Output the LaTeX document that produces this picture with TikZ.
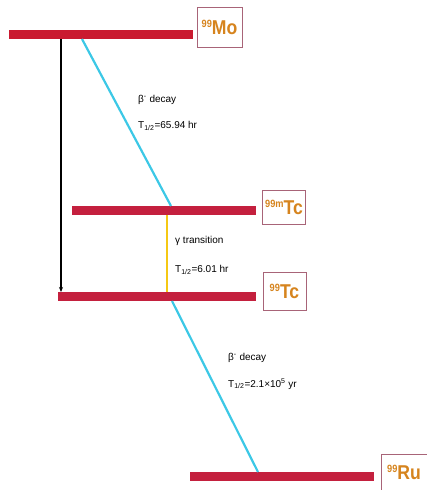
\documentclass[tikz,border=0pt]{standalone}
\usepackage{fontspec}
\setmainfont{Liberation Sans}
\usetikzlibrary{arrows.meta}
\definecolor{barred}{RGB}{196,32,62}
\definecolor{mored}{RGB}{202,26,48}
\definecolor{boxedge}{RGB}{168,100,120}
\definecolor{isoorange}{RGB}{214,132,30}
\definecolor{cyanline}{RGB}{60,200,230}
\definecolor{yellowline}{RGB}{245,200,20}
\tikzset{
  x=1pt, y=-1pt,
  level/.style={fill=barred, draw=none, inner sep=0pt, minimum height=8.5pt},
  isobox/.style={draw=boxedge, line width=0.8pt, fill=white, inner sep=0pt, text=isoorange, font=\fontsize{20}{20}\selectfont\bfseries},
  lbl/.style={anchor=west, inner sep=0pt, font=\fontsize{10}{11}\selectfont},
  decay/.style={cyanline, line width=2.2pt},
}
\newcommand{\isolbl}[2]{\raisebox{-3pt}{\scalebox{0.88}[1]{\raisebox{7pt}{\fontsize{10.5}{10}\selectfont #1}#2}}}
\begin{document}
\begin{tikzpicture}
\useasboundingbox (0,0) rectangle (427,490);
% levels
\node[level, fill=mored, minimum width=184pt] (mo) at (101,34.5) {};
\node[level, minimum width=184pt] (tcm) at (164,210.5) {};
\node[level, minimum width=198pt] (tc) at (157,296.5) {};
\node[level, minimum width=184pt] (ru) at (282,476.5) {};
% labels
\node[isobox, minimum width=45pt, minimum height=40pt] (moL) at (219.5,27.5) {\isolbl{99}{Mo}};
\node[isobox, minimum width=43pt, minimum height=34pt] (tcmL) at (284,207) {\isolbl{99m}{Tc}};
\node[isobox, minimum width=43pt, minimum height=38pt] (tcL) at (284.5,291.5) {\isolbl{99}{Tc}};
\node[isobox, minimum width=46pt, minimum height=36pt] (ruL) at (404,472) {\isolbl{99}{Ru}};
% connector endpoints
\coordinate (a1) at (61,39);
\coordinate (a2) at (61,292);
\coordinate (b1) at (82,39);
\coordinate (b2) at (171,206);
\coordinate (c1) at (167,215);
\coordinate (c2) at (167,292);
\coordinate (d1) at (172,301);
\coordinate (d2) at (258,472);
\draw[black, line width=1.6pt, -{Stealth[length=5pt,width=4pt]}] (a1) -- (a2);
\draw[decay] (b1) -- (b2);
\draw[yellowline, line width=1.6pt] (c1) -- (c2);
\draw[decay] (d1) -- (d2);
% texts
\node[lbl] (t1) at (138,100) {β\textsuperscript{-} decay};
\node[lbl] (t2) at (138,126) {T\textsubscript{1/2}=65.94 hr};
\node[lbl] (t3) at (175,241) {γ transition};
\node[lbl] (t4) at (175,270) {T\textsubscript{1/2}=6.01 hr};
\node[lbl] (t5) at (228,358) {β\textsuperscript{-} decay};
\node[lbl] (t6) at (228,384) {T\textsubscript{1/2}=2.1×10\textsuperscript{5} yr};
\end{tikzpicture}
\end{document}
